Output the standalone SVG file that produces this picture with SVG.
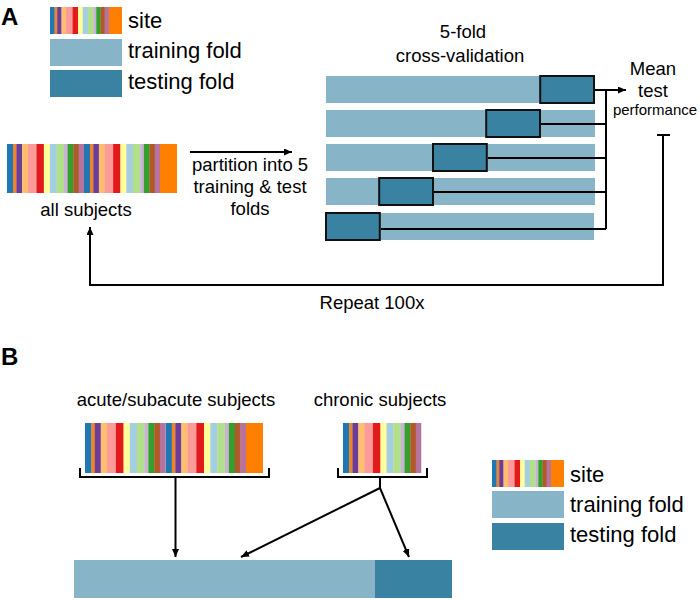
<svg xmlns="http://www.w3.org/2000/svg" xmlns:xlink="http://www.w3.org/1999/xlink" width="700" height="600" viewBox="0 0 700 600">
<style>
text{font-family:"Liberation Sans",Arial,sans-serif;fill:#000}
.lbl{font-size:24px;font-weight:bold}
.leg{font-size:22px}
.t{font-size:18.5px}
.sm{font-size:15px}
.train{fill:#87b4c7}
.test{fill:#3982a2}
.tbox{fill:#3982a2;stroke:#111;stroke-width:2}
.ln{fill:none;stroke:#000;stroke-width:2}
.orng{fill:#ff7f00}
</style>
<defs>
<symbol id="rep" viewBox="0 0 77 10" preserveAspectRatio="none">
<rect x="0" y="0" width="6.3" height="10" fill="#1f78b4"/>
<rect x="6" y="0" width="3.7" height="10" fill="#f08424"/>
<rect x="9.4" y="0" width="5.9" height="10" fill="#6a3d9a"/>
<rect x="15" y="0" width="6.3" height="10" fill="#fdbf6f"/>
<rect x="21" y="0" width="8.7" height="10" fill="#fb9a99"/>
<rect x="29.4" y="0" width="7.6" height="10" fill="#e31a1c"/>
<rect x="36.7" y="0" width="6.3" height="10" fill="#ffff99"/>
<rect x="42.7" y="0" width="7" height="10" fill="#a6cee3"/>
<rect x="49.4" y="0" width="7.6" height="10" fill="#b2df8a"/>
<rect x="56.7" y="0" width="4" height="10" fill="#cab2d6"/>
<rect x="60.4" y="0" width="5.9" height="10" fill="#33a02c"/>
<rect x="66" y="0" width="5.7" height="10" fill="#b15928"/>
<rect x="71.4" y="0" width="5.6" height="10" fill="#b5739d"/>
</symbol>
<marker id="ah" viewBox="0 0 8 7" refX="8" refY="3.5" markerUnits="userSpaceOnUse" markerWidth="8" markerHeight="7" orient="auto">
<path d="M0,0 L8,3.5 L0,7 z" fill="#000"/>
</marker>
</defs>

<!-- Panel A -->
<text class="lbl" x="1" y="25">A</text>

<g id="legendA">
<use xlink:href="#rep" x="50" y="7" width="59" height="27"/>
<rect class="orng" x="109" y="7" width="13" height="27"/>
<rect class="train" x="50" y="39" width="72" height="27"/>
<rect class="test" x="50" y="70" width="72" height="27"/>
<text class="leg" x="128" y="28">site</text>
<text class="leg" x="128" y="58">training fold</text>
<text class="leg" x="128" y="89">testing fold</text>
</g>

<g id="allSubjects">
<use xlink:href="#rep" x="7" y="144" width="77.3" height="49"/>
<use xlink:href="#rep" x="84" y="144" width="76.3" height="49"/>
<rect class="orng" x="160" y="144" width="17" height="49"/>
<text class="t" x="86" y="216" text-anchor="middle">all subjects</text>
</g>

<g id="partition">
<text class="t" x="250" y="171" text-anchor="middle">partition into 5</text>
<text class="t" x="250" y="193" text-anchor="middle">training &amp; test</text>
<text class="t" x="250" y="215" text-anchor="middle">folds</text>
</g>

<g id="cvTitle">
<text class="t" x="463" y="38" text-anchor="middle">5-fold</text>
<text class="t" x="460" y="62" text-anchor="middle">cross-validation</text>
</g>

<g id="fold1">
<rect class="train" x="326" y="76" width="269" height="27"/>
<rect class="tbox" x="540.2" y="76" width="53.8" height="27"/>
</g>
<g id="fold2">
<rect class="train" x="326" y="110" width="269" height="27"/>
<rect class="tbox" x="486.2" y="110" width="53.8" height="27"/>
</g>
<g id="fold3">
<rect class="train" x="326" y="144" width="269" height="27"/>
<rect class="tbox" x="433" y="144" width="53.8" height="27"/>
</g>
<g id="fold4">
<rect class="train" x="326" y="178" width="269" height="27"/>
<rect class="tbox" x="379.2" y="178" width="53.8" height="27"/>
</g>
<g id="fold5">
<rect class="train" x="326" y="213" width="268" height="27"/>
<rect class="tbox" x="326" y="213" width="53.8" height="27"/>
</g>

<g id="meanPerf">
<text class="t" x="653" y="75" text-anchor="middle">Mean</text>
<text class="t" x="653" y="97" text-anchor="middle">test</text>
<text class="sm" x="655" y="115" text-anchor="middle">performance</text>
</g>

<g id="repeat">
<text class="t" x="372" y="309" text-anchor="middle">Repeat 100x</text>
</g>

<!-- Panel B -->
<text class="lbl" x="1" y="365">B</text>

<g id="acute">
<text class="t" x="176" y="406" text-anchor="middle">acute/subacute subjects</text>
<use xlink:href="#rep" x="85" y="423" width="80.8" height="50"/>
<use xlink:href="#rep" x="165.5" y="423" width="80.8" height="50"/>
<rect class="orng" x="246" y="423" width="17" height="50"/>
</g>

<g id="chronic">
<text class="t" x="380" y="406" text-anchor="middle">chronic subjects</text>
<use xlink:href="#rep" x="343" y="423" width="78.5" height="50"/>
</g>

<g id="legendB">
<use xlink:href="#rep" x="492" y="460" width="59" height="27"/>
<rect class="orng" x="551" y="460" width="13" height="27"/>
<rect class="train" x="492" y="491" width="72" height="27"/>
<rect class="test" x="492" y="523" width="72" height="27"/>
<text class="leg" x="570" y="482">site</text>
<text class="leg" x="570" y="512">training fold</text>
<text class="leg" x="570" y="542">testing fold</text>
</g>

<g id="combined">
<rect class="train" x="74" y="560" width="301" height="38"/>
<rect class="test" x="375" y="560" width="77" height="38"/>
</g>

<g id="connectors">
<!-- partition arrow -->
<path class="ln" d="M190,152 H292" marker-end="url(#ah)"/>
<!-- CV lines -->
<path class="ln" d="M595,90 H626" marker-end="url(#ah)"/>
<path class="ln" d="M606,90 V229"/>
<path class="ln" d="M541,124 H606"/>
<path class="ln" d="M488,158 H606"/>
<path class="ln" d="M434,192 H606"/>
<path class="ln" d="M381,229 H606"/>
<!-- repeat loop -->
<path class="ln" d="M657,135 H670"/>
<path class="ln" d="M663,135 V285 H90 V227" marker-end="url(#ah)"/>
<!-- B brackets -->
<path class="ln" d="M80,468 V477 H269 V468" stroke-width="2.5"/>
<path class="ln" d="M338,468 V477 H427 V468" stroke-width="2.5"/>
<path class="ln" d="M175.5,477 V557" marker-end="url(#ah)"/>
<path class="ln" d="M380,477 V488"/>
<path class="ln" d="M380,488 L241,557" marker-end="url(#ah)"/>
<path class="ln" d="M380,488 L409,557" marker-end="url(#ah)"/>
</g>
</svg>
